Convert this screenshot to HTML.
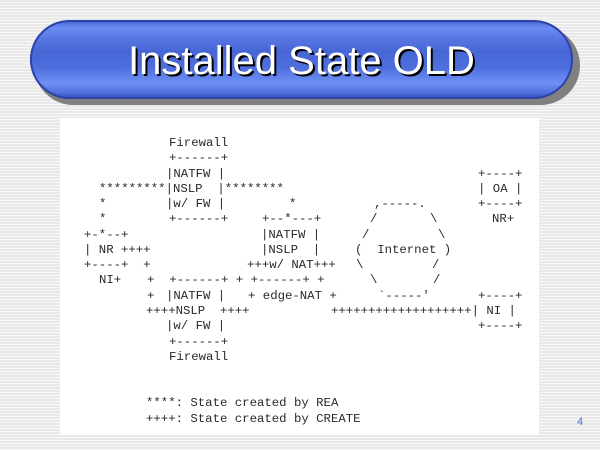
<!DOCTYPE html>
<html><head><meta charset="utf-8"><style>
html,body{margin:0;padding:0}
body{width:600px;height:450px;position:relative;overflow:hidden;
background:repeating-linear-gradient(to bottom,#e9e9e9 0,#e9e9e9 2px,#f7f7f7 2px,#f7f7f7 3px);}
.pillshadow{position:absolute;left:34px;top:26px;width:546px;height:79px;border-radius:40px;background:#808080;}
.pill{position:absolute;left:30px;top:20px;width:543px;height:79px;border-radius:40px;
background:linear-gradient(to bottom,#3f5fd0 0%,#6b8cf2 10%,#5a78e4 22%,#4766d6 40%,#4e6ede 60%,#6f90f4 80%,#5070dc 92%,#2f47b0 100%);
box-shadow:inset 0 0 0 2px #2c43a8;}
.title{position:absolute;left:30px;top:38px;width:543px;text-align:center;font-family:"Liberation Sans",sans-serif;font-size:40px;color:#fff;text-shadow:2px 2px 0 #000;line-height:46px;}
.box{position:absolute;left:60px;top:118px;width:479px;height:317px;background:#fff;}
.t{position:absolute;font-family:"Liberation Mono",monospace;font-size:12.33px;color:#2a2a2a;white-space:pre;line-height:14px;}
.num{position:absolute;left:577px;top:416px;font-family:"Liberation Sans",sans-serif;font-size:11px;color:#4a6ee0;}
</style></head><body>
<div class="pillshadow"></div>
<div class="pill"></div>
<div class="title">Installed State OLD</div>
<div class="box"></div>

<div class="t" style="left:169px;top:136px">Firewall</div>
<div class="t" style="left:169px;top:151px">+------+</div>
<div class="t" style="left:166px;top:167px">|NATFW |</div>
<div class="t" style="left:478px;top:167px">+----+</div>
<div class="t" style="left:99px;top:182px">*********|NSLP  |********</div>
<div class="t" style="left:478px;top:182px">| OA |</div>
<div class="t" style="left:99px;top:197px">*</div>
<div class="t" style="left:166px;top:197px">|w/ FW |</div>
<div class="t" style="left:289px;top:197px">*</div>
<div class="t" style="left:374px;top:197px">,-----.</div>
<div class="t" style="left:478px;top:197px">+----+</div>
<div class="t" style="left:99px;top:212px">*</div>
<div class="t" style="left:169px;top:212px">+------+</div>
<div class="t" style="left:262px;top:212px">+--*---+</div>
<div class="t" style="left:370px;top:212px">/</div>
<div class="t" style="left:430px;top:212px">\</div>
<div class="t" style="left:492px;top:212px">NR+</div>
<div class="t" style="left:84px;top:228px">+-*--+</div>
<div class="t" style="left:261px;top:228px">|NATFW |</div>
<div class="t" style="left:362px;top:228px">/</div>
<div class="t" style="left:438px;top:228px">\</div>
<div class="t" style="left:84px;top:243px">| NR ++++</div>
<div class="t" style="left:261px;top:243px">|NSLP  |</div>
<div class="t" style="left:355px;top:243px">(  Internet )</div>
<div class="t" style="left:84px;top:258px">+----+  +</div>
<div class="t" style="left:247px;top:258px">+++w/ NAT+++</div>
<div class="t" style="left:356px;top:258px">\</div>
<div class="t" style="left:432px;top:258px">/</div>
<div class="t" style="left:99px;top:273px">NI+</div>
<div class="t" style="left:147px;top:273px">+  +------+ + +------+ +</div>
<div class="t" style="left:370px;top:273px">\</div>
<div class="t" style="left:433px;top:273px">/</div>
<div class="t" style="left:147px;top:289px">+</div>
<div class="t" style="left:166px;top:289px">|NATFW |</div>
<div class="t" style="left:248px;top:289px">+ edge-NAT +</div>
<div class="t" style="left:378px;top:289px">`-----'</div>
<div class="t" style="left:478px;top:289px">+----+</div>
<div class="t" style="left:146px;top:304px">++++NSLP  ++++</div>
<div class="t" style="left:331px;top:304px">+++++++++++++++++++| NI |</div>
<div class="t" style="left:166px;top:319px">|w/ FW |</div>
<div class="t" style="left:478px;top:319px">+----+</div>
<div class="t" style="left:169px;top:335px">+------+</div>
<div class="t" style="left:169px;top:350px">Firewall</div>
<div class="t" style="left:146px;top:396px">****: State created by REA</div>
<div class="t" style="left:146px;top:412px">++++: State created by CREATE</div>
<div class="num">4</div>
</body></html>
